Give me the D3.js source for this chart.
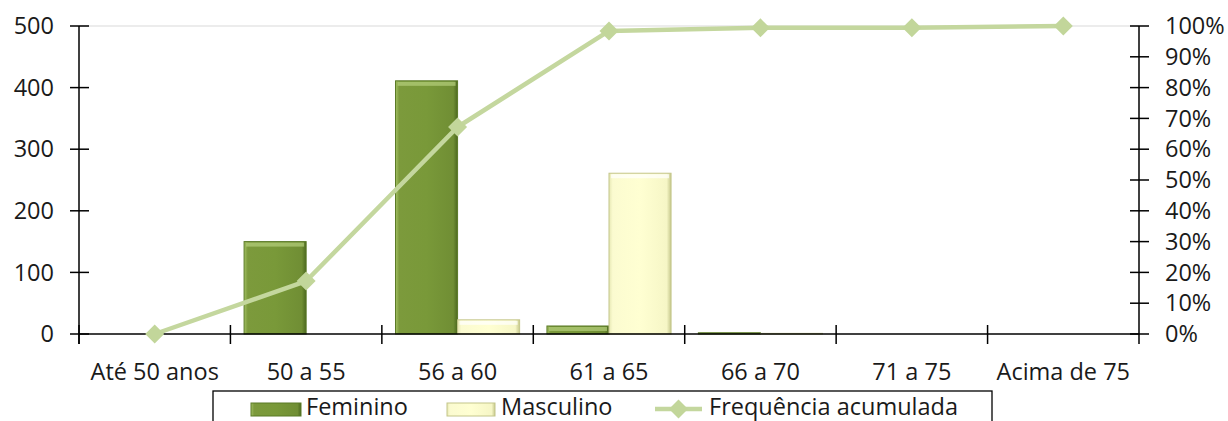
<!DOCTYPE html>
<html><head><meta charset="utf-8">
<script src="https://cdn.jsdelivr.net/npm/d3@7"></script>
<style>body{margin:0;background:#fff}svg text{font-family:"Open Sans",sans-serif;fill:#1a1a1a}</style>
</head><body><svg id="c" width="1228" height="421"></svg>
<script>
const categories = ["Até 50 anos","50 a 55","56 a 60","61 a 65","66 a 70","71 a 75","Acima de 75"];
const feminino = [0,150,411,13,2,0,0];
const masculino = [0,0,23,261,1,0,0];
const freqAcumulada = [0,0.172,0.672,0.984,0.994,0.994,1.0];
const leftTicks = [0,100,200,300,400,500];
const rightTicks = [0,0.1,0.2,0.3,0.4,0.5,0.6,0.7,0.8,0.9,1.0];
const seriesNames = ["Feminino","Masculino","Frequência acumulada"];

const svg = d3.select("#c");
const L=79, R=1139, T=26, B=334;
const x = d3.scaleBand().domain(categories).range([L,R]).paddingInner(0).paddingOuter(0);
const yL = d3.scaleLinear().domain([0,500]).range([B,T]);
const yR = d3.scaleLinear().domain([0,1]).range([B,T]);
const sub = d3.scaleBand().domain(["f","m"]).range([0,x.bandwidth()]).paddingOuter(0.22).paddingInner(0);

const defs = svg.append("defs");
function grad(id, stops){
  const g = defs.append("linearGradient").attr("id",id).attr("x1","0").attr("x2","1").attr("y1","0").attr("y2","0");
  stops.forEach(s=>g.append("stop").attr("offset",s[0]).attr("stop-color",s[1]));
}
grad("gf",[[0,"#a3c063"],[0.06,"#7c9a3c"],[0.5,"#799939"],[0.93,"#708e34"],[1,"#4c681f"]]);
grad("gm",[[0,"#e6e8b4"],[0.06,"#fbfbd0"],[0.5,"#ffffd2"],[0.93,"#f6f6c6"],[1,"#c6c88c"]]);

// top gridline
svg.append("line").attr("x1",L).attr("x2",R).attr("y1",yL(500)).attr("y2",yL(500)).attr("stroke","#e6e6e6").attr("stroke-width",1.5);

// bars
function bars(data,key,fill,stroke,hl){
  const g = svg.append("g");
  categories.forEach((c,i)=>{
    const v=data[i]; if(v<=0) return;
    const x0=x(c)+sub(key), w=sub.bandwidth(), y0=yL(v), h=B-y0;
    g.append("rect").attr("x",x0).attr("y",y0).attr("width",w).attr("height",h).attr("fill",`url(#${fill})`).attr("stroke",stroke).attr("stroke-width",1);
    if(h>8) g.append("rect").attr("x",x0+2).attr("y",y0+1).attr("width",w-4).attr("height",4).attr("fill",hl).attr("opacity",0.7);
  });
}
bars(feminino,"f","gf","#5b7a27","#b5cf7c");
bars(masculino,"m","gm","#c4c68a","#ffffff");

// axes
const ax = svg.append("g").attr("stroke","#000").attr("stroke-width",1.5);
ax.append("line").attr("x1",L).attr("x2",L).attr("y1",T).attr("y2",B+10);
ax.append("line").attr("x1",R).attr("x2",R).attr("y1",T).attr("y2",B+10);
ax.append("line").attr("x1",L).attr("x2",R).attr("y1",B).attr("y2",B);
leftTicks.forEach(t=>ax.append("line").attr("x1",L-9).attr("x2",L+10).attr("y1",yL(t)).attr("y2",yL(t)));
rightTicks.forEach(t=>ax.append("line").attr("x1",R-9).attr("x2",R+10).attr("y1",yR(t)).attr("y2",yR(t)));
categories.forEach(c=>ax.append("line").attr("x1",x(c)).attr("x2",x(c)).attr("y1",B-9).attr("y2",B+10));

const fs=23.5;
svg.append("g").selectAll("text").data(leftTicks).join("text").attr("x",54).attr("y",d=>yL(d)).attr("dy","0.35em").attr("text-anchor","end").attr("font-size",fs).text(d=>d);
svg.append("g").selectAll("text").data(rightTicks).join("text").attr("x",1165).attr("y",d=>yR(d)).attr("dy","0.35em").attr("font-size",fs).text(d=>d3.format(".0%")(d));
svg.append("g").selectAll("text").data(categories).join("text").attr("x",d=>x(d)+x.bandwidth()/2).attr("y",372).attr("dy","0.35em").attr("text-anchor","middle").attr("font-size",fs).text(d=>d);

// line
const cx = c=>x(c)+x.bandwidth()/2;
const line = d3.line().x((d,i)=>cx(categories[i])).y(d=>yR(d));
svg.append("path").datum(freqAcumulada).attr("d",line).attr("fill","none").attr("stroke","#c4d79e").attr("stroke-width",4.5).attr("stroke-linejoin","round");
const dm = "M0,-9.5L9.5,0L0,9.5L-9.5,0Z";
svg.append("g").selectAll("path").data(freqAcumulada).join("path").attr("transform",(d,i)=>`translate(${cx(categories[i])},${yR(d)})`).attr("d",dm).attr("fill","#c2d69a");

// legend
const lg = svg.append("g");
lg.append("rect").attr("x",213).attr("y",391).attr("width",779).attr("height",40).attr("fill","#fff").attr("stroke","#000").attr("stroke-width",1.3);
const ly=409, lb=414.5;
lg.append("rect").attr("x",251).attr("y",ly-6).attr("width",50).attr("height",13).attr("fill","url(#gf)").attr("stroke","#5b7a27");
lg.append("text").attr("x",306).attr("y",lb).attr("font-size",fs).text(seriesNames[0]);
lg.append("rect").attr("x",447).attr("y",ly-6).attr("width",48).attr("height",13).attr("fill","url(#gm)").attr("stroke","#c4c68a");
lg.append("text").attr("x",501).attr("y",lb).attr("font-size",fs).text(seriesNames[1]);
lg.append("line").attr("x1",655).attr("x2",702).attr("y1",ly).attr("y2",ly).attr("stroke","#c4d79e").attr("stroke-width",4.5);
lg.append("path").attr("transform",`translate(678.5,${ly})`).attr("d",dm).attr("fill","#c2d69a");
lg.append("text").attr("x",709).attr("y",lb).attr("font-size",fs).text(seriesNames[2]);
</script></body></html>
